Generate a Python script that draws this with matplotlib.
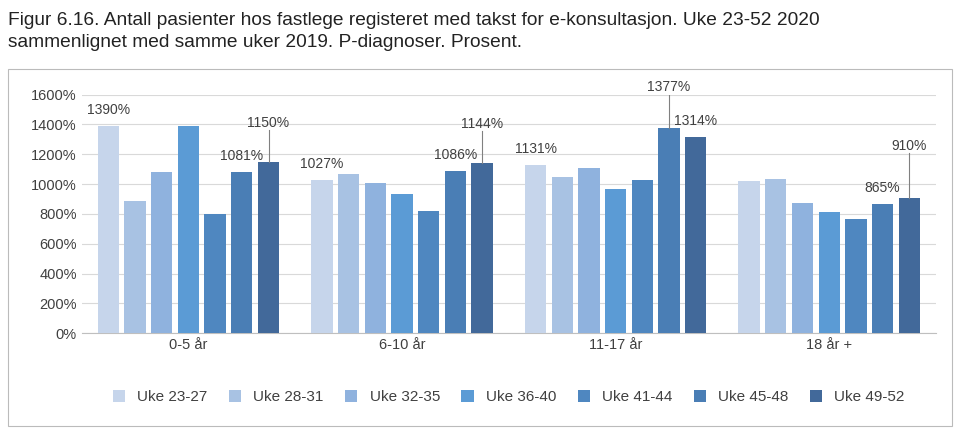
import matplotlib.pyplot as plt
import numpy as np
from matplotlib.patches import Rectangle

# ---------------------------
# DATA
# ---------------------------
groups = ["0-5 år", "6-10 år", "11-17 år", "18 år +"]
series = ["Uke 23-27", "Uke 28-31", "Uke 32-35", "Uke 36-40", "Uke 41-44", "Uke 45-48", "Uke 49-52"]
values = [
    [1390, 1027, 1131, 1020],
    [890, 1065, 1050, 1035],
    [1080, 1010, 1105, 875],
    [1390, 935, 970, 815],
    [800, 820, 1030, 765],
    [1081, 1086, 1377, 865],
    [1150, 1144, 1314, 910],
]
colors = ["#c6d5eb", "#a8c2e3", "#8fb2de", "#5b9bd5", "#4f87c0", "#4a7eb5", "#42699a"]

# labels: (series index, group index, text offset in %, leader line)
labels = [
    (0, 0, 60, False), (5, 0, 60, False), (6, 0, 210, True),
    (0, 1, 60, False), (5, 1, 60, False), (6, 1, 210, True),
    (0, 2, 60, False), (5, 2, 230, True), (6, 2, 60, False),
    (5, 3, 60, False), (6, 3, 300, True),
]

plt.rcParams["font.family"] = "Liberation Sans"
fig = plt.figure(figsize=(9.6, 4.3), dpi=100)
fig.text(0.008, 0.972, "Figur 6.16. Antall pasienter hos fastlege registeret med takst for e-konsultasjon. Uke 23-52 2020\nsammenlignet med samme uker 2019. P-diagnoser. Prosent.",
         fontsize=13.8, va="top", ha="left", color="#222222", linespacing=1.35)
fig.patches.append(Rectangle((0.008, 0.01), 0.984, 0.83, transform=fig.transFigure,
                             fill=False, edgecolor="#bbbbbb", lw=0.8))

ax = fig.add_axes([0.085, 0.225, 0.89, 0.555])
n = len(series)
width = 0.1
step = 0.1 * 1.25
x = np.arange(len(groups))
for i in range(n):
    ax.bar(x + (i - (n - 1) / 2) * step, values[i], width, color=colors[i], label=series[i], zorder=3)

for si, gi, off, line in labels:
    xp = x[gi] + (si - (n - 1) / 2) * step
    v = values[si][gi]
    ax.text(xp, v + off, f"{v}%", ha="center", va="bottom", fontsize=10, color="#404040")
    if line:
        ax.plot([xp, xp], [v, v + off], color="#808080", lw=0.8, zorder=4)

ax.set_ylim(0, 1600)
ax.set_yticks(range(0, 1601, 200))
ax.set_yticklabels([f"{t}%" for t in range(0, 1601, 200)], fontsize=10.5, color="#404040")
ax.set_xticks(x)
ax.set_xticklabels(groups, fontsize=10.5, color="#404040")
ax.set_xlim(-0.5, len(groups) - 0.5)
ax.grid(axis="y", color="#d9d9d9", lw=0.8, zorder=0)
for s in ["top", "right", "left"]:
    ax.spines[s].set_visible(False)
ax.spines["bottom"].set_color("#bfbfbf")
ax.tick_params(length=0)
ax.legend(loc="upper center", bbox_to_anchor=(0.5, -0.18), ncol=7, frameon=False,
          fontsize=11, handlelength=0.8, handleheight=0.8, columnspacing=1.4, labelcolor="#404040")

fig.savefig("out.png")
